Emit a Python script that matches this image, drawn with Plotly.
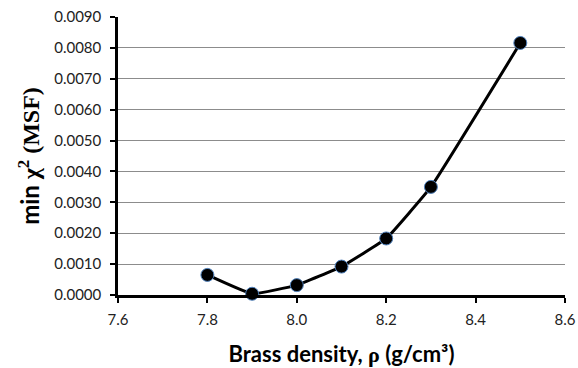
import plotly.graph_objects as go

# Brass density (g/cm^3) and the minimum chi-square (mean squared fit error)
density = [7.8, 7.9, 8.0, 8.1, 8.2, 8.3, 8.5]
min_chi2 = [0.00065, 0.00004, 0.00032, 0.00092, 0.00183, 0.0035, 0.00816]

x_ticks = [7.6, 7.8, 8.0, 8.2, 8.4, 8.6]
y_ticks = [i * 0.001 for i in range(10)]

fig = go.Figure()
fig.add_trace(go.Scatter(
    x=density, y=min_chi2,
    mode="lines+markers",
    line=dict(color="black", width=3, shape="spline", smoothing=0.3),
    marker=dict(size=13, color="black", line=dict(color="#4f81bd", width=1)),
    showlegend=False,
    cliponaxis=False,
))

fig.update_layout(
    width=578, height=368,
    margin=dict(l=118, r=13, t=17, b=73),
    paper_bgcolor="white", plot_bgcolor="white",
    font=dict(family="Lato, Liberation Sans, sans-serif", color="black", size=15),
    xaxis=dict(
        range=[7.6, 8.6], tickvals=x_ticks, ticktext=[f"{v:.1f}" for v in x_ticks],
        showline=True, linecolor="black", linewidth=2.5,
        ticks="outside", ticklen=5, tickwidth=2, tickcolor="black",
        tickfont=dict(color="#222222"), ticklabelstandoff=4,
        showgrid=False, zeroline=False, automargin=False,
        title=dict(
            text="<b>Brass density, <span style='font-family:Liberation Serif'>ρ</span> (g/cm³)</b>",
            font=dict(size=22), standoff=20,
        ),
    ),
    yaxis=dict(
        range=[0, 0.009], tickvals=y_ticks, ticktext=[f"{v:.4f}" for v in y_ticks],
        showline=True, linecolor="black", linewidth=2.5,
        ticks="outside", ticklen=5, tickwidth=2, tickcolor="black",
        tickfont=dict(color="#222222"), ticklabelstandoff=6,
        showgrid=True, gridcolor="#8c8c8c", gridwidth=1, zeroline=False,
        automargin=False,
        title=dict(
            text="<b>min <span style='font-family:Liberation Serif'>χ<sup>2</sup> (MSF)</span></b>",
            font=dict(size=24), standoff=8,
        ),
    ),
)

fig.write_html("out.html")
